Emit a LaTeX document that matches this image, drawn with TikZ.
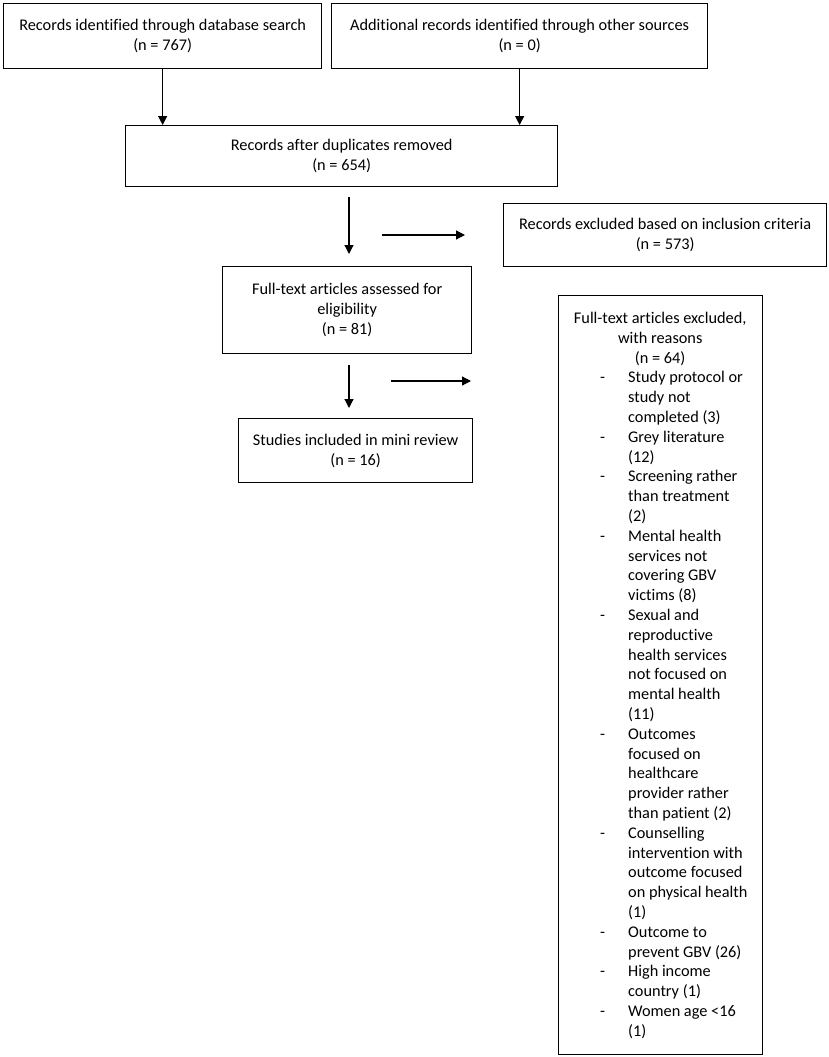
\documentclass[tikz,border=0pt]{standalone}
\usepackage{fontspec}
\setmainfont{Carlito}[Ligatures={NoCommon}]
\usetikzlibrary{arrows.meta}
\tikzset{
  box/.style={draw=black, line width=1.3pt, anchor=north west, inner sep=0pt,
    align=center, font=\fontsize{16.3}{19.8}\selectfont},
  flow/.style={line width=1.2pt, -{Triangle[length=9pt,width=9pt]}},
  listtext/.style={inner sep=0pt, align=left, font=\fontsize{16.3}{19.8}\selectfont}
}
\newcommand{\hdline}[1]{\makebox[120pt][c]{#1}}
\newcommand{\itmline}[1]{\makebox[28pt][l]{-}#1}
\newcommand{\contline}[1]{\hspace*{28pt}#1}
\begin{document}
\begin{tikzpicture}[x=1pt,y=-1pt]
\useasboundingbox (0,0) rectangle (829,1057);
\node[box, minimum width=318pt, minimum height=65pt] (b1) at (3,3)
  {Records identified through database search\\(n = 767)};
\node[box, minimum width=376pt, minimum height=65pt] (b2) at (331,3)
  {Additional records identified through other sources\\(n = 0)};
\node[box, minimum width=432pt, minimum height=61pt] (b3) at (125,125)
  {Records after duplicates removed\\(n = 654)};
\node[box, minimum width=323pt, minimum height=63pt] (b4) at (503,203)
  {Records excluded based on inclusion criteria\\(n = 573)};
\node[box, minimum width=249pt, minimum height=87pt] (b5) at (222,266)
  {Full-text articles assessed for\\eligibility\\(n = 81)};
\node[box, minimum width=234pt, minimum height=64pt] (b7) at (238,418)
  {Studies included in mini review\\(n = 16)};
\node[box, minimum width=204pt, minimum height=759pt] (b6) at (558,295) {};
\node[listtext, anchor=north west] (b6t) at (600,312) {%
\hdline{Full-text articles excluded,}\\
\hdline{with reasons}\\
\hdline{(n = 64)}\\
\itmline{Study protocol or}\\
\contline{study not}\\
\contline{completed (3)}\\
\itmline{Grey literature}\\
\contline{(12)}\\
\itmline{Screening rather}\\
\contline{than treatment}\\
\contline{(2)}\\
\itmline{Mental health}\\
\contline{services not}\\
\contline{covering GBV}\\
\contline{victims (8)}\\
\itmline{Sexual and}\\
\contline{reproductive}\\
\contline{health services}\\
\contline{not focused on}\\
\contline{mental health}\\
\contline{(11)}\\
\itmline{Outcomes}\\
\contline{focused on}\\
\contline{healthcare}\\
\contline{provider rather}\\
\contline{than patient (2)}\\
\itmline{Counselling}\\
\contline{intervention with}\\
\contline{outcome focused}\\
\contline{on physical health}\\
\contline{(1)}\\
\itmline{Outcome to}\\
\contline{prevent GBV (26)}\\
\itmline{High income}\\
\contline{country (1)}\\
\itmline{Women age <16}\\
\contline{(1)}};
\coordinate (a3s) at (349,197);
\coordinate (a3e) at (349,254);
\coordinate (h1s) at (382,235);
\coordinate (h1e) at (465,235);
\coordinate (a4s) at (349,365);
\coordinate (a4e) at (349,408);
\coordinate (h2s) at (391,381);
\coordinate (h2e) at (471,381);
\draw[flow] (b1.south) -- (b1.south |- b3.north);
\draw[flow] (b2.south) -- (b2.south |- b3.north);
\draw[flow] (a3s) -- (a3e);
\draw[flow] (h1s) -- (h1e);
\draw[flow] (a4s) -- (a4e);
\draw[flow] (h2s) -- (h2e);
\end{tikzpicture}
\end{document}
